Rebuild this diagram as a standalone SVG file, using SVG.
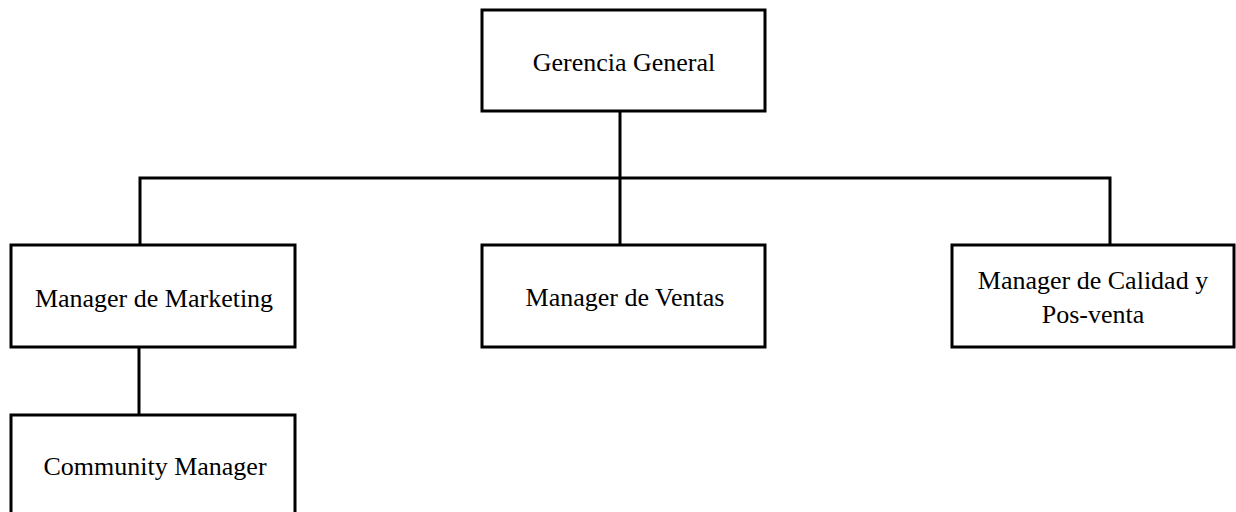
<svg xmlns="http://www.w3.org/2000/svg" width="1236" height="512" viewBox="0 0 1236 512">
<style>
.box{fill:#fff;stroke:#000;stroke-width:3}
.lbl{font-family:"Liberation Serif","Times New Roman",serif;font-size:26px;fill:#000;text-anchor:middle}
.conn{stroke:#000;stroke-width:3;fill:none}
</style>
<rect width="1236" height="512" fill="#fff"/>
<g id="connectors">
<path class="conn" d="M620 111V246"/>
<path class="conn" d="M140 245V178H1110V245"/>
<path class="conn" d="M139 347V415"/>
</g>
<g id="gerencia">
<rect class="box" x="482" y="10" width="283" height="101"/>
<text class="lbl" x="624" y="71">Gerencia General</text>
</g>
<g id="marketing">
<rect class="box" x="11" y="245" width="284" height="102"/>
<text class="lbl" x="154" y="307">Manager de Marketing</text>
</g>
<g id="ventas">
<rect class="box" x="482" y="245" width="283" height="102"/>
<text class="lbl" x="625" y="306">Manager de Ventas</text>
</g>
<g id="calidad">
<rect class="box" x="952" y="245" width="282" height="102"/>
<text class="lbl" x="1093" y="289">Manager de Calidad y</text>
<text class="lbl" x="1093" y="323">Pos-venta</text>
</g>
<g id="community">
<rect class="box" x="11" y="415" width="284" height="110"/>
<text class="lbl" x="155" y="475">Community Manager</text>
</g>
</svg>
